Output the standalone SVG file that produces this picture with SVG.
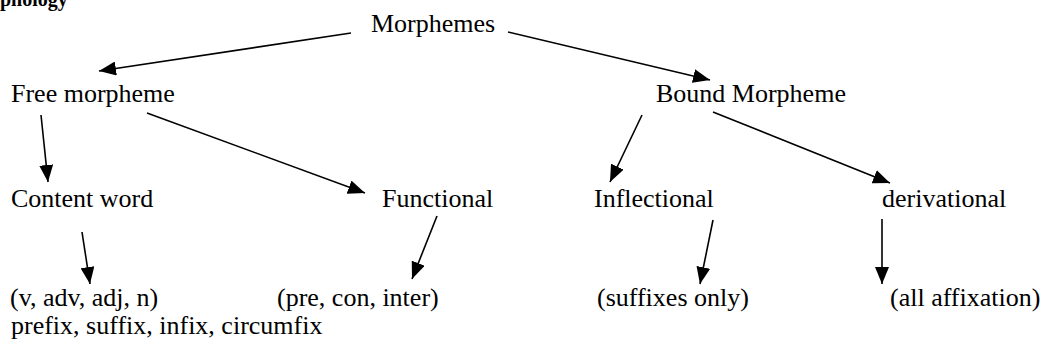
<svg xmlns="http://www.w3.org/2000/svg" width="1055" height="354" viewBox="0 0 1055 354">
  <style>
    text { font-family: "Liberation Serif", "Times New Roman", serif; font-size: 26px; fill: #000; }
    .title { font-weight: bold; font-size: 20px; }
    .conn line { stroke: #000; stroke-width: 1.6; fill: none; marker-end: url(#ah); }
  </style>
  <defs>
    <marker id="ah" markerUnits="userSpaceOnUse" markerWidth="18" markerHeight="14" refX="17" refY="7" orient="auto">
      <path d="M0,0 L17,7 L0,14 z" fill="#000"/>
    </marker>
  </defs>
  <rect width="1055" height="354" fill="#fff"/>
  <text class="title" x="0" y="6">phology</text>
  <g id="morphemes"><text x="371" y="32">Morphemes</text></g>
  <g id="free"><text x="11" y="102">Free morpheme</text></g>
  <g id="bound"><text x="656" y="102">Bound Morpheme</text></g>
  <g id="content"><text x="11" y="207">Content word</text></g>
  <g id="functional"><text x="382" y="207">Functional</text></g>
  <g id="inflectional"><text x="594" y="207">Inflectional</text></g>
  <g id="derivational"><text x="882" y="207">derivational</text></g>
  <g id="content-ex"><text x="10" y="306">(v, adv, adj, n)</text></g>
  <g id="functional-ex"><text x="277" y="306">(pre, con, inter)</text></g>
  <g id="inflectional-ex"><text x="597" y="306">(suffixes only)</text></g>
  <g id="derivational-ex"><text x="890" y="306">(all affixation)</text></g>
  <g id="affixes"><text x="11" y="334">prefix, suffix, infix, circumfix</text></g>
  <g class="conn" id="connectors">
    <line x1="351" y1="33" x2="99" y2="71"/>
    <line x1="508" y1="32" x2="710" y2="80"/>
    <line x1="41" y1="115" x2="48" y2="182"/>
    <line x1="147" y1="113" x2="365" y2="193"/>
    <line x1="642" y1="115" x2="610" y2="182"/>
    <line x1="713" y1="112" x2="890" y2="183"/>
    <line x1="82" y1="232" x2="90" y2="284"/>
    <line x1="437" y1="216" x2="412" y2="279"/>
    <line x1="713" y1="220" x2="700" y2="284"/>
    <line x1="882" y1="219" x2="882" y2="284"/>
  </g>
</svg>
